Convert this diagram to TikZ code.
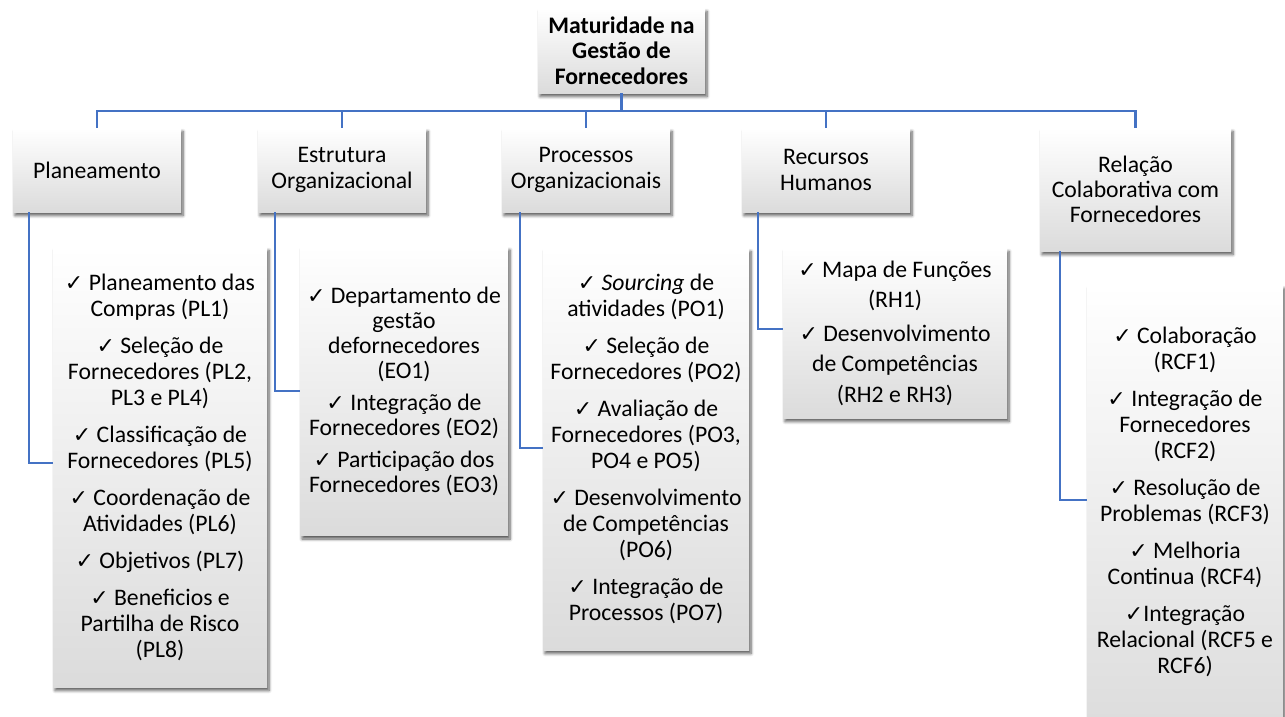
\documentclass[tikz,border=0pt]{standalone}
\usepackage{fontspec}
\setmainfont{Carlito}
\newfontfamily\symfont{DejaVu Sans}
\usetikzlibrary{shadows,shadows.blur}
\definecolor{linkblue}{HTML}{4472C4}
\newcommand\ck{{\symfont\fontsize{22}{26}\selectfont ✓}}
\tikzset{
  boxbase/.style={rectangle, draw=none, inner sep=0pt, align=center,
    top color=white, middle color=black!2, bottom color=black!14,
    blur shadow={shadow xshift=2pt, shadow yshift=-3.5pt, shadow blur radius=3pt,
      shadow blur steps=6, shadow opacity=65},
    font=\fontsize{23.7}{26}\selectfont},
  rootbox/.style={boxbase, font=\fontsize{23.7}{25.5}\selectfont\bfseries},
  catbox/.style={boxbase},
  listbox/.style={boxbase},
  conn/.style={draw=linkblue, line width=2.2pt}
}
\begin{document}
\begin{tikzpicture}[x=1pt, y=-1pt]
\useasboundingbox (0,0) rectangle (1285,717);
\clip (0,0) rectangle (1285,717);

% root and the five dimensions
\node[rootbox, minimum width=167pt, minimum height=85pt] (root) at (621.5,50.5)
  {Maturidade na\\Gestão de\\Fornecedores};
\node[catbox, minimum width=168pt, minimum height=84pt] (plan) at (97,170) {Planeamento};
\node[catbox, minimum width=168pt, minimum height=84pt] (estr) at (342,170) {Estrutura\\Organizacional};
\node[catbox, minimum width=168pt, minimum height=84pt] (proc) at (586,170) {Processos\\Organizacionais};
\node[catbox, minimum width=168pt, minimum height=84pt] (recu) at (826,170) {Recursos\\Humanos};
\node[catbox, minimum width=191pt, minimum height=123pt, font=\fontsize{23.7}{25}\selectfont] (rela) at (1135.5,189.5)
  {Relação\\Colaborativa com\\Fornecedores};

% practice lists
\node[listbox, minimum width=214pt, minimum height=440pt] (pllist) at (160,467)
  {\ck{} Planeamento das\\Compras (PL1)\\[11pt]
   \ck{} Seleção de\\Fornecedores (PL2,\\PL3 e PL4)\\[11pt]
   \ck{} Classificação de\\Fornecedores (PL5)\\[11pt]
   \ck{} Coordenação de\\Atividades (PL6)\\[11pt]
   \ck{} Objetivos (PL7)\\[11pt]
   \ck{} Beneficios e\\Partilha de Risco\\(PL8)};
\node[listbox, minimum width=208pt, minimum height=289pt, font=\fontsize{23.7}{25}\selectfont] (eolist) at (404,391)
  {\ck{} Departamento de\\gestão\\defornecedores\\(EO1)\\[7pt]
   \ck{} Integração de\\Fornecedores (EO2)\\[7pt]
   \ck{} Participação dos\\Fornecedores (EO3)};
\node[listbox, minimum width=206pt, minimum height=402pt] (polist) at (646,449)
  {\ck{} \textit{Sourcing} de\\atividades (PO1)\\[11pt]
   \ck{} Seleção de\\Fornecedores (PO2)\\[11pt]
   \ck{} Avaliação de\\Fornecedores (PO3,\\PO4 e PO5)\\[11pt]
   \ck{} Desenvolvimento\\de Competências\\(PO6)\\[11pt]
   \ck{} Integração de\\Processos (PO7)};
\node[listbox, minimum width=224pt, minimum height=170pt, font=\fontsize{23.7}{30.5}\selectfont] (rhlist) at (895,333)
  {\ck{} Mapa de Funções\\(RH1)\\[3pt]
   \ck{} Desenvolvimento\\de Competências\\(RH2 e RH3)};
\node[listbox, minimum width=196pt, minimum height=457pt] (rcflist) at (1185,513.5)
  {\ck{} Colaboração\\(RCF1)\\[11pt]
   \ck{} Integração de\\Fornecedores\\(RCF2)\\[11pt]
   \ck{} Resolução de\\Problemas (RCF3)\\[11pt]
   \ck{} Melhoria\\Continua (RCF4)\\[11pt]
   \ck{}Integração\\Relacional (RCF5 e\\RCF6)\\[0pt]};

% tree connectors
\coordinate (bus) at (621.5,111);
\draw[conn] (root.south) -- (bus);
\foreach \n in {plan,estr,proc,recu,rela}
  \draw[conn] (bus) -| (\n.north);

% links from each dimension to its list
\draw[conn] ([xshift=16pt]plan.south west) |- ([yshift=4pt]pllist.west);
\draw[conn] ([xshift=17pt]estr.south west) |- ([yshift=0pt]eolist.west);
\draw[conn] ([xshift=18pt]proc.south west) |- ([yshift=1pt]polist.west);
\draw[conn] ([xshift=16pt]recu.south west) |- ([yshift=4pt]rhlist.west);
\draw[conn] ([xshift=20pt]rela.south west) |- ([yshift=13.5pt]rcflist.west);
\end{tikzpicture}
\end{document}
